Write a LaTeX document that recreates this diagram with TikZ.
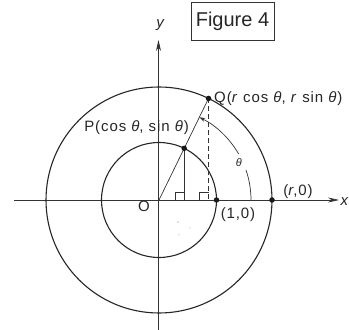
\documentclass[tikz,border=0pt]{standalone}
\usepackage{fontspec}
\setmainfont{Liberation Sans}
\usetikzlibrary{arrows.meta,calc}
\begin{document}
\begin{tikzpicture}[x=1pt,y=1pt,
  ink/.style={draw=black!85, line width=1.1pt},
  thin/.style={draw=black!80, line width=0.7pt},
  lbl/.style={inner sep=0pt, text=black!85, font=\fontsize{15}{17}\selectfont\addfontfeature{LetterSpace=6}},
  dot/.style={circle, fill=black!90, inner sep=0pt, minimum size=5.5pt},
  axisarrow/.style={-{Stealth[length=11pt,width=5pt]}}]
\useasboundingbox (0,0) rectangle (349,330);
\def\th{64}
\coordinate (O) at (159,130);
\coordinate (P) at ($(O)+(\th:57.5)$);
\coordinate (Q) at ($(O)+(\th:113)$);
\coordinate (Pf) at (P |- O);
\coordinate (Qf) at (Q |- O);
\coordinate (xs) at (14,130);
\coordinate (xe) at (339,130);
\coordinate (ys) at (158.5,0);
\coordinate (ye) at (158.5,290);
% axes
\draw[thin, axisarrow] (xs) -- (xe);
\draw[thin, axisarrow] (ys) -- (ye);
\node[lbl] (xl) at (345,128) {\textit{x}};
\node[lbl] (yl) at (161,305) {\textit{y}};
% circles
\draw[ink] (O) circle (57.5);
\draw[ink] (O) circle (113);
% segments
\draw[thin] (O) -- (Q);
\draw[thin] (P) -- (Pf);
\draw[thin, dashed, dash pattern=on 5pt off 3pt] (Q) -- (Qf);
% right angle marks
\draw[thin] ($(Pf)+(-9,0)$) -- ++(0,8) -- ++(9,0);
\draw[thin] ($(Qf)+(-9,0)$) -- ++(0,8) -- ++(9,0);
% angle arc
\draw[thin] ($(O)+(0:92)$) arc[start angle=0, end angle=19, radius=92];
\draw[thin, -{Stealth[length=6pt,width=4pt]}] ($(O)+(30:92)$) arc[start angle=30, end angle=\th, radius=92];
\node[lbl, font=\fontsize{11}{12}\selectfont] (thl) at ($(O)+(25:88)$) {\textit{θ}};
% points
\node[dot] (Pd) at (P) {};
\node[dot] (Qd) at (Q) {};
\node[dot] (Ud) at ($(O)+(57.5,0)$) {};
\node[dot] (Rd) at ($(O)+(113,0)$) {};
% labels
\node[lbl, anchor=west] (Ql) at (214,231) {Q(\textit{r} cos \textit{θ}, \textit{r} sin \textit{θ})};
\node[lbl, anchor=east] (Pl) at (189,202) {P(cos \textit{θ}, sin \textit{θ})};
\node[lbl] (Ol) at (144,124) {O};
\node[lbl] (U1) at (238,115) {(1,0)};
\node[lbl] (Rl) at (298,138) {(\textit{r},0)};
% specks
\fill[black!50] (178,108) circle (0.7) (190,102) circle (0.5) (179,95) circle (0.5);
% figure box
\draw[thin] (191,290) rectangle (274,328);
\node[lbl, font=\fontsize{20}{22}\selectfont] (fig) at (232.5,309) {Figure 4};
\end{tikzpicture}
\end{document}
